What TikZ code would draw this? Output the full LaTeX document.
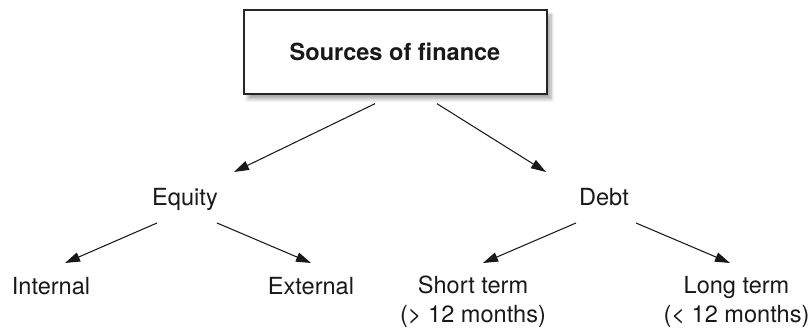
\documentclass[tikz,border=0pt]{standalone}
\usepackage{fontspec}
\setmainfont{TeX Gyre Heros}
\usetikzlibrary{arrows.meta,shadows.blur}
\begin{document}
\begin{tikzpicture}[
  font=\fontsize{13.4}{16.5}\selectfont,
  arr/.style={-{Triangle[length=0.3cm,width=0.19cm]}, line width=0.6pt, black!90},
  lbl/.style={anchor=base, inner sep=0pt, align=center, text=black!90}]
\useasboundingbox (0,0) rectangle (16.24,6.56);
\node[draw=black!85, line width=0.8pt, fill=white, minimum width=6.06cm, minimum height=1.68cm,
  blur shadow={shadow xshift=0.08cm, shadow yshift=-0.1cm, shadow blur steps=8, shadow opacity=35}]
  (title) at (7.91,5.52) {};
\node[lbl] (titletext) at (7.9,5.34) {\bfseries Sources of finance};
\node[lbl] (equity) at (3.70,2.44) {Equity};
\node[lbl] (debt) at (12.08,2.44) {Debt};
\node[lbl] (internal) at (1.02,0.66) {Internal};
\node[lbl] (external) at (6.22,0.66) {External};
% two-line labels: base is the second line
\node[lbl] (short) at (9.46,0.11) {Short term\\(> 12 months)};
\node[lbl] (long) at (14.73,0.11) {Long term\\(< 12 months)};
\draw[arr] ([xshift=-0.41cm,yshift=-0.18cm]title.south) -- ([xshift=0.98cm,yshift=0.68cm]equity.base);
\draw[arr] ([xshift=0.83cm,yshift=-0.18cm]title.south) -- ([xshift=-1.16cm,yshift=0.68cm]debt.base);
\draw[arr] ([xshift=-0.56cm,yshift=-0.34cm]equity.base) -- ([xshift=0.28cm,yshift=0.64cm]internal.base);
\draw[arr] ([xshift=0.64cm,yshift=-0.34cm]equity.base) -- ([yshift=0.64cm]external.base);
\draw[arr] ([xshift=-0.56cm,yshift=-0.34cm]debt.base) -- ([xshift=0.2cm,yshift=1.19cm]short.base);
\draw[arr] ([xshift=0.64cm,yshift=-0.34cm]debt.base) -- ([xshift=-0.13cm,yshift=1.19cm]long.base);
\end{tikzpicture}
\end{document}
